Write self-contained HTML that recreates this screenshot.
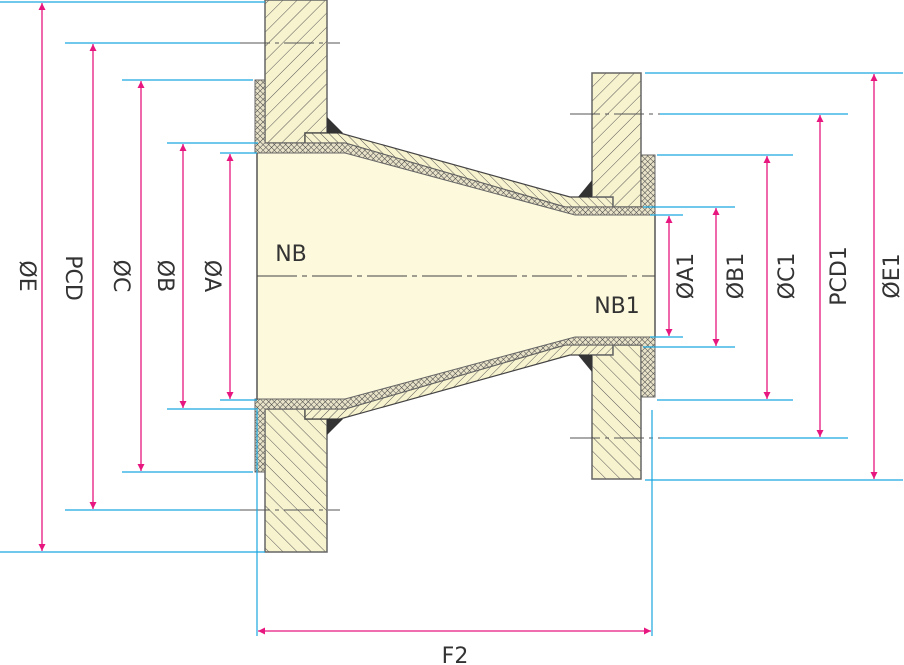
<!DOCTYPE html>
<html><head><meta charset="utf-8"><style>
html,body{margin:0;padding:0;background:#fff;}
svg{display:block;}
text{font-family:"DejaVu Sans","Liberation Sans",sans-serif;font-size:22px;fill:#333;}
</style></head><body>
<svg width="904" height="665" viewBox="0 0 904 665" xmlns="http://www.w3.org/2000/svg">
<defs>
<pattern id="h" width="10" height="10" patternUnits="userSpaceOnUse" patternTransform="rotate(45)">
<rect width="10" height="10" fill="#f8f3cf"/><line x1="0" y1="0" x2="0" y2="10" stroke="#555" stroke-width="1"/></pattern>
<pattern id="h2" width="6" height="6" patternUnits="userSpaceOnUse" patternTransform="rotate(-45)">
<rect width="6" height="6" fill="#f8f3cf"/><line x1="0" y1="0" x2="0" y2="6" stroke="#555" stroke-width="1"/></pattern>
<pattern id="x" width="4" height="4" patternUnits="userSpaceOnUse" patternTransform="rotate(45)">
<rect width="4" height="4" fill="#e8e2c8"/><line x1="0" y1="0" x2="0" y2="4" stroke="#444" stroke-width="1"/><line x1="0" y1="0" x2="4" y2="0" stroke="#444" stroke-width="1"/></pattern>
<marker id="a" viewBox="0 0 10 10" refX="10" refY="5" markerWidth="7" markerHeight="7" orient="auto-start-reverse" markerUnits="userSpaceOnUse"><path d="M0,0L10,5L0,10z" fill="#e8177f"/></marker>
<g id="half">
<polygon points="265,0 327,0 327,133 305,133 305,143 265,143" fill="url(#h)" stroke="#666" stroke-width="1.5"/>
<polygon points="305,133 340,133 570,197 613,197 613,207 565,207 345,143 305,143" fill="url(#h2)" stroke="#444" stroke-width="1.2"/>
<polygon points="592,73 641,73 641,207 613,207 613,197 592,197" fill="url(#h)" stroke="#666" stroke-width="1.5"/>
<polygon points="255,80 265,80 265,143 345,143 565,207 641,207 641,155 655,155 655,215 575,215 345,153 255,153" fill="url(#x)" stroke="#666" stroke-width="1"/>
<polygon points="327,117 327,133 343,133" fill="#333"/>
<polygon points="592,180 592,197 578,197" fill="#333"/>
</g>
</defs>
<polygon points="257,153 345,153 575,215 655,215 655,337 575,337 345,399 257,399" fill="#fdf9dc"/>
<use href="#half"/>
<use href="#half" transform="translate(0,552) scale(1,-1)"/>
<line x1="257" y1="153" x2="257" y2="400" stroke="#555" stroke-width="1.5"/>
<line x1="655" y1="215" x2="655" y2="337" stroke="#555" stroke-width="1.5"/>
<line x1="257" y1="276" x2="655" y2="276" stroke="#444" stroke-width="1" stroke-dasharray="40,5,5,5"/>
<g stroke="#555" stroke-width="1" stroke-dasharray="30,5,4,5">
<line x1="240" y1="43" x2="340" y2="43"/><line x1="240" y1="510" x2="340" y2="510"/>
<line x1="570" y1="114" x2="660" y2="114"/><line x1="570" y1="438" x2="660" y2="438"/>
</g>
<g stroke="#1aa6e0" stroke-width="1.2">
<line x1="0" y1="2" x2="265" y2="2"/><line x1="0" y1="552" x2="265" y2="552"/>
<line x1="65" y1="43" x2="240" y2="43"/><line x1="65" y1="510" x2="240" y2="510"/>
<line x1="122" y1="80" x2="253" y2="80"/><line x1="122" y1="472" x2="253" y2="472"/>
<line x1="167" y1="143" x2="258" y2="143"/><line x1="167" y1="409" x2="258" y2="409"/>
<line x1="220" y1="153" x2="257" y2="153"/><line x1="220" y1="400" x2="257" y2="400"/>
<line x1="645" y1="73" x2="903" y2="73"/><line x1="645" y1="480" x2="903" y2="480"/>
<line x1="660" y1="114" x2="848" y2="114"/><line x1="660" y1="438" x2="848" y2="438"/>
<line x1="657" y1="155" x2="793" y2="155"/><line x1="657" y1="400" x2="793" y2="400"/>
<line x1="643" y1="207" x2="735" y2="207"/><line x1="643" y1="347" x2="735" y2="347"/>
<line x1="650" y1="215" x2="683" y2="215"/><line x1="650" y1="337" x2="683" y2="337"/>
<line x1="257" y1="410" x2="257" y2="636"/><line x1="652" y1="410" x2="652" y2="636"/>
</g>
<g stroke="#e8177f" stroke-width="1.3" marker-start="url(#a)" marker-end="url(#a)">
<line x1="42" y1="3" x2="42" y2="551"/>
<line x1="93" y1="44" x2="93" y2="509"/>
<line x1="141" y1="81" x2="141" y2="471"/>
<line x1="183" y1="144" x2="183" y2="408"/>
<line x1="230" y1="154" x2="230" y2="399"/>
<line x1="669" y1="216" x2="669" y2="336"/>
<line x1="716" y1="208" x2="716" y2="346"/>
<line x1="767" y1="156" x2="767" y2="399"/>
<line x1="820" y1="115" x2="820" y2="437"/>
<line x1="874" y1="74" x2="874" y2="479"/>
<line x1="258" y1="631" x2="651" y2="631"/>
</g>
<g text-anchor="middle">
<text transform="translate(20,276) rotate(90)">ØE</text>
<text transform="translate(66,278) rotate(90)">PCD</text>
<text transform="translate(114,276) rotate(90)">ØC</text>
<text transform="translate(158,276) rotate(90)">ØB</text>
<text transform="translate(205,276) rotate(90)">ØA</text>
<text transform="translate(693,276) rotate(-90)">ØA1</text>
<text transform="translate(743,276) rotate(-90)">ØB1</text>
<text transform="translate(794,276) rotate(-90)">ØC1</text>
<text transform="translate(846,276) rotate(-90)">PCD1</text>
<text transform="translate(899,276) rotate(-90)">ØE1</text>
<text x="291" y="261">NB</text>
<text x="617" y="313">NB1</text>
<text x="455" y="663">F2</text>
</g>
</svg>
</body></html>
